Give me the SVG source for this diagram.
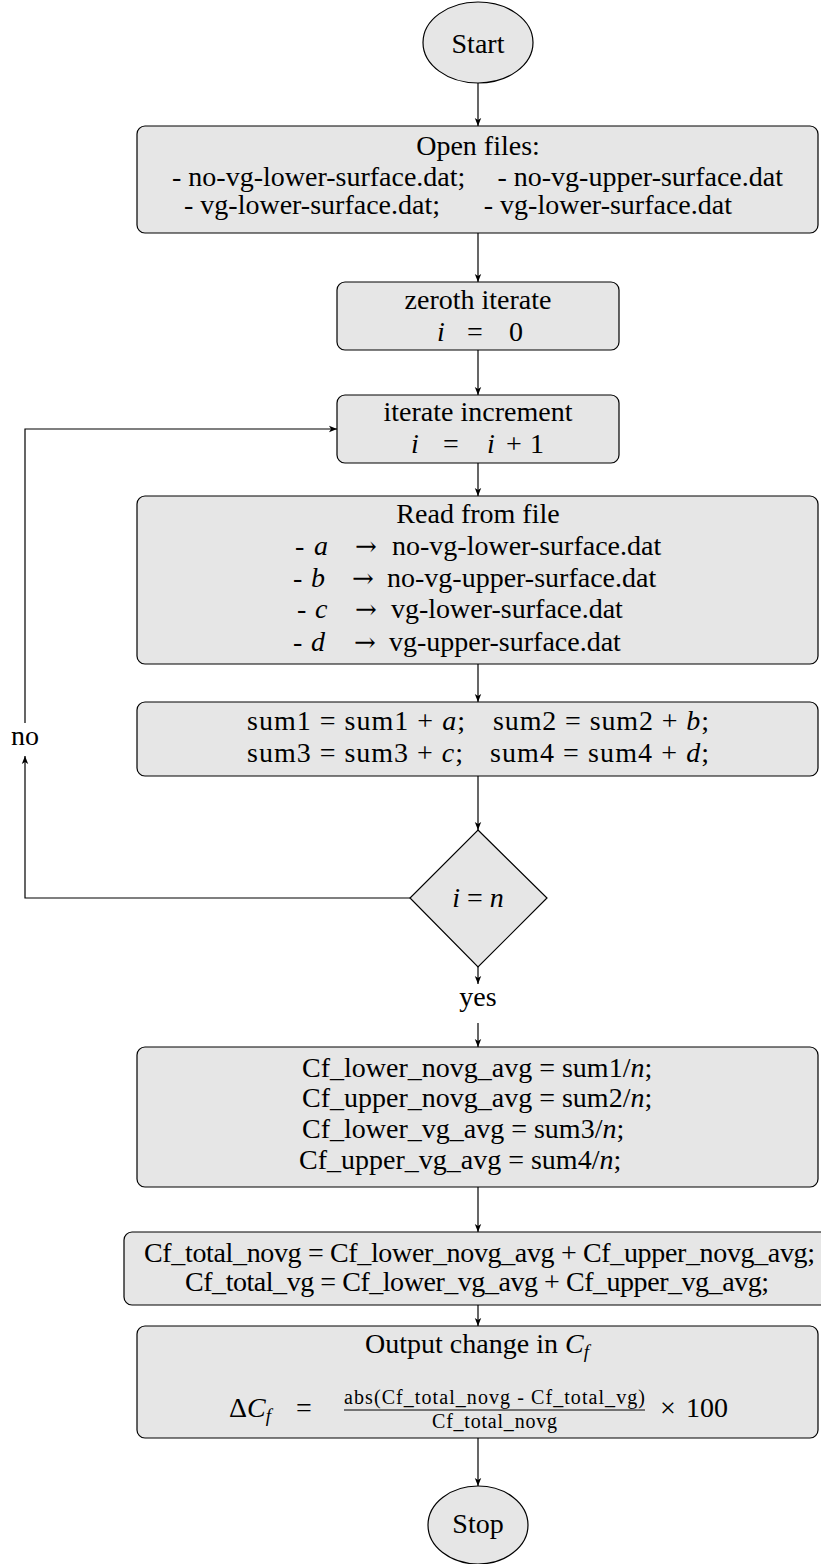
<svg xmlns="http://www.w3.org/2000/svg" width="821" height="1564" viewBox="0 0 821 1564">
<style>
text{font-family:"Liberation Serif","Times New Roman",serif;font-size:28px;fill:#000}
.m{text-anchor:middle}
.e{text-anchor:end}
.i{font-style:italic}
.ar{font-family:"DejaVu Serif",serif;font-size:26px}
.box{fill:#e6e6e6;stroke:#000;stroke-width:1.2}
.c{stroke:#000;stroke-width:1.2;fill:none}
.a{marker-end:url(#ah)}
.sm{font-size:20px}
</style>
<defs>
<marker id="ah" markerWidth="10" markerHeight="8" refX="8" refY="4" orient="auto" markerUnits="userSpaceOnUse">
<path d="M0,0.8 L8,4 L0,7.2 L2,4 z" fill="#000"/>
</marker>
</defs>
<rect width="821" height="1564" fill="#fff"/>

<g id="connectors">
<line class="c a" x1="478" y1="83" x2="478" y2="126"/>
<line class="c a" x1="478" y1="233" x2="478" y2="282"/>
<line class="c a" x1="478" y1="350" x2="478" y2="395"/>
<line class="c a" x1="478" y1="463" x2="478" y2="496"/>
<line class="c a" x1="478" y1="664" x2="478" y2="702"/>
<line class="c a" x1="478" y1="776" x2="478" y2="830"/>
<line class="c a" x1="478" y1="967" x2="478" y2="984"/>
<line class="c a" x1="478" y1="1023" x2="478" y2="1047"/>
<line class="c a" x1="478" y1="1187" x2="478" y2="1232"/>
<line class="c a" x1="478" y1="1305" x2="478" y2="1326"/>
<line class="c a" x1="478" y1="1438" x2="478" y2="1486"/>
<polyline class="c a" points="410,898 25,898 25,756"/>
<polyline class="c a" points="25,723 25,429 337,429"/>
</g>

<g id="start">
<ellipse class="box" cx="478" cy="42.5" rx="55" ry="40.5"/>
<text class="m" x="478" y="53">Start</text>
</g>

<g id="open-files">
<rect class="box" x="137" y="126" width="681" height="107" rx="8"/>
<text class="m" x="478" y="155">Open files:</text>
<text x="172" y="186">- no-vg-lower-surface.dat;</text>
<text class="e" x="783" y="186">- no-vg-upper-surface.dat</text>
<text x="184" y="214">- vg-lower-surface.dat;</text>
<text class="e" x="732" y="214">- vg-lower-surface.dat</text>
</g>

<g id="zeroth">
<rect class="box" x="337" y="282" width="282" height="68" rx="8"/>
<text class="m" x="478" y="309">zeroth iterate</text>
<text class="i" x="437" y="341">i</text>
<text class="m" x="475" y="341">=</text>
<text x="509" y="341">0</text>
</g>

<g id="increment">
<rect class="box" x="337" y="395" width="282" height="68" rx="8"/>
<text class="m" x="478" y="421">iterate increment</text>
<text class="i" x="411" y="453">i</text>
<text class="m" x="451" y="453">=</text>
<text class="i" x="487" y="453">i</text>
<text class="m" x="514" y="453">+</text>
<text x="530" y="453">1</text>
</g>

<g id="read">
<rect class="box" x="137" y="496" width="681" height="168" rx="8"/>
<text class="m" x="478" y="523">Read from file</text>
<text x="295" y="555">-</text><text class="i" x="314" y="555">a</text><text class="ar" x="355" y="555">→</text><text x="392" y="555">no-vg-lower-surface.dat</text>
<text x="293" y="587">-</text><text class="i" x="311" y="587">b</text><text class="ar" x="352" y="587">→</text><text x="387" y="587">no-vg-upper-surface.dat</text>
<text x="297" y="618">-</text><text class="i" x="315" y="618">c</text><text class="ar" x="355" y="618">→</text><text x="391" y="618">vg-lower-surface.dat</text>
<text x="293" y="651">-</text><text class="i" x="311" y="651">d</text><text class="ar" x="354" y="651">→</text><text x="389" y="651">vg-upper-surface.dat</text>
</g>

<g id="sums">
<rect class="box" x="137" y="702" width="681" height="74" rx="8"/>
<text x="247" y="730" textLength="218">sum1 = sum1 + <tspan class="i">a</tspan>;</text>
<text x="493" y="730" textLength="216">sum2 = sum2 + <tspan class="i">b</tspan>;</text>
<text x="247" y="762" textLength="216">sum3 = sum3 + <tspan class="i">c</tspan>;</text>
<text x="490" y="762" textLength="219">sum4 = sum4 + <tspan class="i">d</tspan>;</text>
</g>

<g id="decision">
<polygon class="box" points="478,830 547,898 478,967 410,898"/>
<text class="m" x="478" y="907"><tspan class="i">i</tspan> = <tspan class="i">n</tspan></text>
</g>

<g id="yes">
<text class="m" x="478" y="1006">yes</text>
</g>

<g id="no">
<text class="m" x="25" y="745">no</text>
</g>

<g id="averages">
<rect class="box" x="137" y="1047" width="681" height="140" rx="8"/>
<text x="302" y="1077">Cf_lower_novg_avg = sum1/<tspan class="i">n</tspan>;</text>
<text x="302" y="1107">Cf_upper_novg_avg = sum2/<tspan class="i">n</tspan>;</text>
<text x="302" y="1138">Cf_lower_vg_avg = sum3/<tspan class="i">n</tspan>;</text>
<text x="299" y="1169">Cf_upper_vg_avg = sum4/<tspan class="i">n</tspan>;</text>
</g>

<g id="totals">
<rect class="box" x="124" y="1232" width="708" height="73" rx="8"/>
<text class="m" x="479.5" y="1262" textLength="671">Cf_total_novg = Cf_lower_novg_avg + Cf_upper_novg_avg;</text>
<text class="m" x="477" y="1291" textLength="584">Cf_total_vg = Cf_lower_vg_avg + Cf_upper_vg_avg;</text>
</g>

<g id="output">
<rect class="box" x="137" y="1326" width="681" height="112" rx="8"/>
<text class="m" x="477" y="1353">Output change in <tspan class="i">C</tspan><tspan class="i" font-size="19" dy="5">f</tspan></text>
<text x="229" y="1417">Δ<tspan class="i">C</tspan><tspan class="i" font-size="19" dy="5">f</tspan></text>
<text class="m" x="304" y="1417">=</text>
<text class="m sm" x="494.5" y="1404" textLength="301">abs(Cf_total_novg - Cf_total_vg)</text>
<line x1="344" y1="1410" x2="645" y2="1410" stroke="#000" stroke-width="1"/>
<text class="m sm" x="494.5" y="1428" textLength="125">Cf_total_novg</text>
<text class="m" x="668" y="1417">×</text>
<text x="686" y="1417">100</text>
</g>

<g id="stop">
<ellipse class="box" cx="478" cy="1525" rx="50" ry="39"/>
<text class="m" x="478" y="1533">Stop</text>
</g>
</svg>
